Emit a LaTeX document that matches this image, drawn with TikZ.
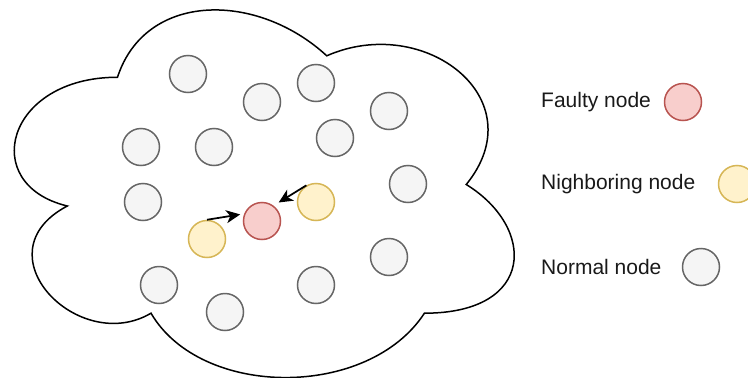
\documentclass[tikz,border=0pt]{standalone}
\usepackage{fontspec}
\setmainfont{Liberation Sans}
\usetikzlibrary{positioning,arrows.meta}
\definecolor{normfill}{HTML}{F5F5F5}
\definecolor{normline}{HTML}{666666}
\definecolor{faultfill}{HTML}{F8CECC}
\definecolor{faultline}{HTML}{B85450}
\definecolor{neighfill}{HTML}{FFF2CC}
\definecolor{neighline}{HTML}{D6B656}
\tikzset{
  arrow/.style={-{Stealth[length=14pt,width=13pt,inset=4pt]}, line width=1.75pt, draw=black},
  legendtext/.style={anchor=west, inner sep=0pt, font=\fontsize{21}{25}\selectfont, text=black!90},
  dot/.style={
    circle,
    line width=1.5pt,
    minimum size=37pt,
    inner sep=0pt
  },
  normalnode/.style={dot, draw=normline, fill=normfill},
  faultnode/.style={dot, draw=faultline, fill=faultfill},
  neighnode/.style={dot, draw=neighline, fill=neighfill}
}

\begin{document}
\begin{tikzpicture}[x=1pt, y=-1pt]
\useasboundingbox (0,0) rectangle (748,378);

% Cloud
\draw[line width=1.5pt, fill=white]
  (117.5,77.25) .. controls (5.9,77.25) and (-22,184.5) .. (67.3,206)
  .. controls (-22,253.1) and (78.4,356.1) .. (151,313.2)
  .. controls (201.2,399) and (368.6,399) .. (424.4,313.2)
  .. controls (536,313.2) and (536,227.4) .. (466.25,184.5)
  .. controls (536,98.7) and (424.4,12.9) .. (326.75,55.8)
  .. controls (257,-8.55) and (145.4,-8.55) .. (117.5,77.25) -- cycle;

% Normal nodes
\foreach \name/\x/\y in {n1/188/74, n2/316/83, n3/262/102, n4/389/111,
  n5/141/147, n6/214/147, n7/335/138, n8/408/184, n9/143/202,
  n10/389/257, n11/159/285, n12/316/285, n13/225/312} {
  \node[normalnode] (\name) at (\x,\y) {};
}

% Faulty node and its neighbours
\node[faultnode] (fl) at (262,221) {};
\node[neighnode] (nb1) at (207,239) {};
\node[neighnode] (nb2) at (316,202) {};

\draw[arrow, shorten >=4pt] (nb1.north) -- (fl.158);
\draw[arrow, shorten >=6pt] (nb2.120) -- (fl.53);

% Legend
\node[legendtext] (tfault) at (541,102) {Faulty node};
\node[legendtext] (tneigh) at (541,184) {Nighboring node};
\node[legendtext] (tnorm) at (541,267) {Normal node};
\node[faultnode] (lfault) at (683,102) {};
\node[neighnode] (lneigh) at (737,184) {};
\node[normalnode] (lnorm) at (701,267) {};

\end{tikzpicture}
\end{document}
